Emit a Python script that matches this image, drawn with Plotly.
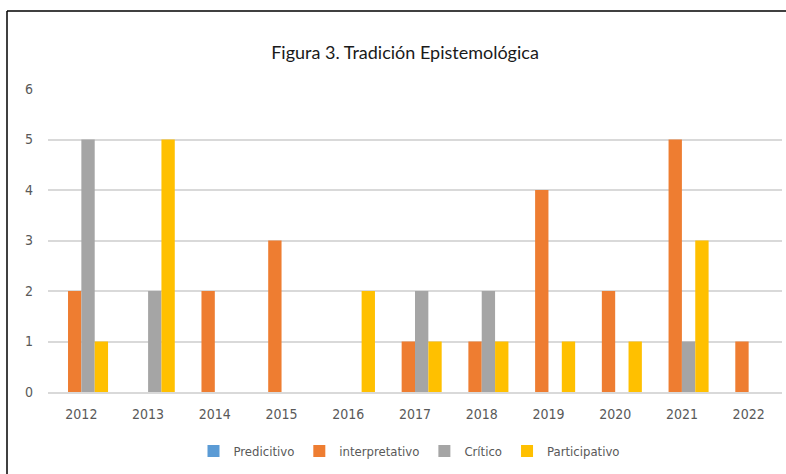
import plotly.graph_objects as go

years = ["2012", "2013", "2014", "2015", "2016", "2017", "2018", "2019", "2020", "2021", "2022"]
predicitivo = [0, 0, 0, 0, 0, 0, 0, 0, 0, 0, 0]
interpretativo = [2, 0, 2, 3, 0, 1, 1, 4, 2, 5, 1]
critico = [5, 2, 0, 0, 0, 2, 2, 0, 0, 1, 0]
participativo = [1, 5, 0, 0, 2, 1, 1, 1, 1, 3, 0]

series = [
    ("Predicitivo", predicitivo, "#5B9BD5"),
    ("interpretativo", interpretativo, "#EE7D31"),
    ("Crítico", critico, "#A5A5A5"),
    ("Participativo", participativo, "#FFC000"),
]

FONT = "DejaVu Sans Condensed, DejaVu Sans, sans-serif"

fig = go.Figure()
for name, vals, col in series:
    fig.add_trace(go.Bar(x=years, y=vals, name=name, marker=dict(color=col, line=dict(width=0))))

W, H = 786, 474
L, R, T, B = 48, 4, 89, 82
pw = W - L - R
ph = H - T - B

def px(x):
    return (x - L) / pw

def py(y):
    return (H - B - y) / ph

fig.update_layout(
    width=W, height=H,
    margin=dict(l=L, r=R, t=T, b=B),
    paper_bgcolor="white", plot_bgcolor="white",
    barmode="group", bargap=0.2, bargroupgap=0,
    title=dict(text="Figura 3. Tradición Epistemológica", x=405 / W, xanchor="center",
               y=1 - 53 / H, yanchor="middle", yref="container",
               font=dict(family="Lato, Open Sans, sans-serif", size=18, color="#1A1A1A")),
    legend=dict(orientation="h", x=px(409), xanchor="center", y=py(451), yanchor="middle",
                font=dict(family=FONT, size=13, color="#595959"), itemwidth=30,
                traceorder="normal"),
    showlegend=True,
    font=dict(family=FONT, color="#595959"),
)
fig.update_yaxes(range=[0, 6], dtick=1, showgrid=True, gridcolor="#D9D9D9", gridwidth=1.5,
                 zeroline=False, showline=False, tickfont=dict(family=FONT, size=14, color="#595959"),
                 ticks="", ticklabelstandoff=14, fixedrange=True)
fig.update_xaxes(showline=True, linecolor="#D9D9D9", linewidth=1.5, ticks="",
                 tickfont=dict(family=FONT, size=14, color="#595959"), ticklabelstandoff=8)

# frame lines
fig.add_shape(type="line", xref="paper", yref="paper", x0=px(7), x1=px(7), y0=py(11), y1=py(H + 5),
              line=dict(color="black", width=1.5))
fig.add_shape(type="line", xref="paper", yref="paper", x0=px(7), x1=px(W + 5), y0=py(11), y1=py(11),
              line=dict(color="black", width=1.5))

fig.write_html("out.html", config={"displayModeBar": False},
               post_script="document.body.style.margin='0';document.body.style.overflow='hidden';")
